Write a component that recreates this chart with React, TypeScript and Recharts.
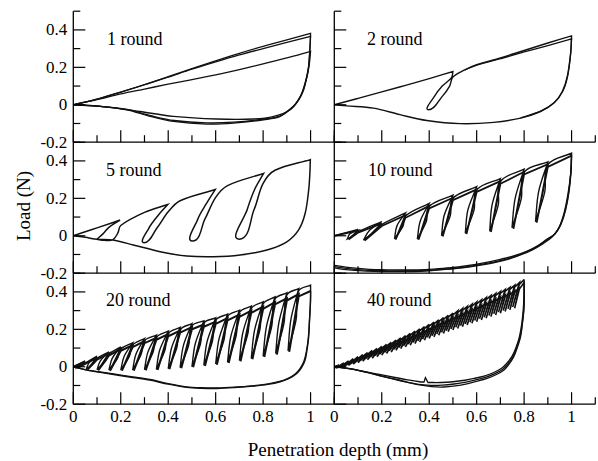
import React from 'react';
import { LineChart, Line, XAxis, YAxis } from 'recharts';

type Pt = [number, number];

const W = 598;
const H = 461;
const FONT = '"Liberation Serif", "Times New Roman", serif';

// axes
const xTicks = [0, 0.1, 0.2, 0.3, 0.4, 0.5, 0.6, 0.7, 0.8, 0.9, 1, 1.1];
const yTicks = [-0.2, -0.1, 0, 0.1, 0.2, 0.3, 0.4, 0.5];
const xLabelTicks = [0, 0.2, 0.4, 0.6, 0.8, 1];
const yLabelTicks = [-0.2, 0, 0.2, 0.4];
const panelTitles = ['1 round', '2 round', '5 round', '10 round', '20 round', '40 round'];

// ---- 1 round ----
const r1LoadD = [0, 0.1, 0.2, 0.3, 0.4, 0.5, 0.6, 0.7, 0.8, 0.9, 1];
const r1LoadA = [0, 0.03, 0.068, 0.108, 0.15, 0.193, 0.235, 0.275, 0.312, 0.347, 0.382];
const r1LoadB = [0, 0.03, 0.068, 0.107, 0.148, 0.19, 0.229, 0.266, 0.3, 0.333, 0.365];
const r1LoadC = [0, 0.027, 0.058, 0.084, 0.11, 0.134, 0.16, 0.188, 0.218, 0.25, 0.285];
const r1UnloadAD = [1, 0.997, 0.992, 0.983, 0.971, 0.952, 0.928, 0.872, 0.802, 0.675, 0.563, 0.422, 0.324, 0.225, 0.113, 0];
const r1UnloadAL = [0.382, 0.3, 0.204, 0.14, 0.08, 0.03, -0.009, -0.062, -0.08, -0.098, -0.103, -0.089, -0.062, -0.027, -0.009, 0];
const r1UnloadBD = [1, 0.997, 0.991, 0.981, 0.968, 0.948, 0.924, 0.87, 0.8, 0.675, 0.563, 0.425, 0.326, 0.226, 0.113, 0];
const r1UnloadBL = [0.365, 0.29, 0.2, 0.135, 0.075, 0.025, -0.012, -0.06, -0.077, -0.093, -0.097, -0.084, -0.058, -0.025, -0.008, 0];
const r1UnloadCD = [1, 0.995, 0.985, 0.972, 0.957, 0.914, 0.845, 0.76, 0.605, 0.422, 0.281, 0.183, 0.09, 0];
const r1UnloadCL = [0.285, 0.22, 0.151, 0.095, 0.044, -0.027, -0.062, -0.076, -0.076, -0.062, -0.036, -0.018, -0.006, 0];

// ---- 2 round ----
const r2Load: Pt[] = [[0, 0], [0.1, 0.034], [0.2, 0.069], [0.3, 0.104], [0.4, 0.14], [0.5, 0.178]];
const r2Leaf: Pt[] = [
  [0.5, 0.178], [0.494, 0.145], [0.455, 0.1], [0.422, 0.045], [0.397, -0.027], [0.455, 0.045],
  [0.486, 0.1], [0.5, 0.148], [0.55, 0.186], [0.6, 0.214], [0.7, 0.25], [0.8, 0.29], [0.9, 0.33], [1, 0.368],
];
const r2Unload: Pt[] = [
  [1, 0.368], [0.996, 0.276], [0.982, 0.151], [0.961, 0.071], [0.925, 0.009], [0.869, -0.036], [0.785, -0.071],
  [0.672, -0.094], [0.531, -0.101], [0.39, -0.084], [0.277, -0.053], [0.165, -0.018], [0.052, -0.006], [0, 0],
];
const r2Load2: Pt[] = [[0.55, 0.186], [0.6, 0.212], [0.7, 0.246], [0.8, 0.282], [0.9, 0.316], [1, 0.352]];
const r2Unload2: Pt[] = [[1, 0.352], [0.996, 0.27], [0.983, 0.15], [0.963, 0.072], [0.928, 0.012], [0.87, -0.034], [0.785, -0.07]];

// ---- 5 round ----
const r5Load: Pt[] = [[0, 0], [0.1, 0.042], [0.197, 0.084]];
const r5Leaf1Down: Pt[] = [[0.197, 0.084], [0.15, 0.045], [0.125, 0.01], [0.099, -0.019]];
const r5Leaf1Up: Pt[] = [[0.099, -0.019], [0.13, -0.024], [0.166, -0.022], [0.188, 0.015], [0.2, 0.055], [0.3, 0.125], [0.398, 0.167]];
const r5Leaf2: Pt[] = [[0.398, 0.167], [0.358, 0.11], [0.318, 0.04], [0.298, -0.037], [0.352, 0.04], [0.4, 0.128], [0.45, 0.187], [0.598, 0.247]];
const r5Leaf3: Pt[] = [[0.598, 0.247], [0.56, 0.17], [0.525, 0.09], [0.502, -0.028], [0.555, 0.09], [0.6, 0.205], [0.65, 0.268], [0.802, 0.333]];
const r5Leaf4: Pt[] = [[0.802, 0.333], [0.765, 0.25], [0.733, 0.14], [0.699, -0.018], [0.762, 0.14], [0.8, 0.28], [0.85, 0.35], [0.999, 0.407]];
const r5Unload: Pt[] = [
  [0.999, 0.407], [0.997, 0.333], [0.992, 0.244], [0.977, 0.119], [0.949, 0.03], [0.9, -0.032], [0.816, -0.076],
  [0.703, -0.103], [0.591, -0.112], [0.478, -0.108], [0.366, -0.085], [0.253, -0.049], [0.166, -0.023], [0.1, -0.019],
  [0.05, -0.008], [0, 0],
];

// ---- 10 round ----
const r10PeakD = [0.1, 0.2, 0.3, 0.4, 0.5, 0.6, 0.7, 0.8, 0.9, 1];
const r10PeakA = [0.034, 0.076, 0.122, 0.173, 0.217, 0.262, 0.306, 0.356, 0.395, 0.441];
const r10PeakB = [0.028, 0.066, 0.11, 0.16, 0.203, 0.248, 0.292, 0.342, 0.382, 0.428];
const r10ValD = [0.055, 0.123, 0.254, 0.35, 0.452, 0.552, 0.655, 0.749, 0.848];
const r10ValDB = [0.06, 0.128, 0.258, 0.355, 0.457, 0.557, 0.66, 0.755, 0.853];
const r10ValA = [-0.016, -0.023, -0.016, -0.018, 0.0, 0.013, 0.024, 0.042, 0.075];
const r10ValB = [-0.02, -0.026, -0.02, -0.021, -0.004, 0.009, 0.02, 0.037, 0.07];
const r10JoinA = [0.022, 0.06, 0.106, 0.157, 0.2, 0.245, 0.29, 0.34, 0.38];
const r10JoinB = [0.017, 0.052, 0.096, 0.146, 0.19, 0.234, 0.278, 0.328, 0.368];
const r10MidL = [0.009, 0.027, 0.053, 0.078, 0.108, 0.138, 0.165, 0.199, 0.235];
const r10LeftD = [0.065, 0.147, 0.264, 0.362, 0.463, 0.563, 0.665, 0.762, 0.861];
const r10RightD = [0.091, 0.173, 0.29, 0.388, 0.489, 0.589, 0.691, 0.788, 0.887];
const r10UnloadA: Pt[] = [
  [1, 0.441], [0.998, 0.35], [0.99, 0.244], [0.975, 0.14], [0.955, 0.06], [0.93, 0.01], [0.897, -0.018], [0.855, -0.055],
  [0.813, -0.082], [0.756, -0.108], [0.7, -0.126], [0.63, -0.145], [0.559, -0.16], [0.49, -0.171], [0.418, -0.178],
  [0.35, -0.182], [0.277, -0.183], [0.2, -0.181], [0.137, -0.178], [0.066, -0.17], [0, -0.158],
];
const r10UnloadB: Pt[] = [
  [1, 0.428], [0.997, 0.34], [0.988, 0.235], [0.972, 0.13], [0.95, 0.05], [0.922, 0.0], [0.888, -0.03], [0.845, -0.065],
  [0.8, -0.092], [0.745, -0.118], [0.69, -0.136], [0.62, -0.153], [0.55, -0.167], [0.48, -0.177], [0.41, -0.184],
  [0.34, -0.187], [0.27, -0.188], [0.2, -0.187], [0.13, -0.184], [0.06, -0.176], [0, -0.165],
];
const r10UnloadC: Pt[] = [
  [1, 0.435], [0.996, 0.33], [0.985, 0.225], [0.968, 0.12], [0.945, 0.04], [0.915, -0.01], [0.88, -0.042], [0.835, -0.075],
  [0.79, -0.1], [0.735, -0.125], [0.68, -0.142], [0.61, -0.158], [0.54, -0.171], [0.47, -0.18], [0.4, -0.187],
  [0.33, -0.191], [0.26, -0.192], [0.19, -0.191], [0.12, -0.188], [0.05, -0.181], [0, -0.172],
];

// ---- 20 round ----
const r20PeakD = [0.05, 0.1, 0.15, 0.2, 0.25, 0.3, 0.35, 0.4, 0.45, 0.5, 0.55, 0.6, 0.65, 0.7, 0.75, 0.8, 0.85, 0.9, 0.95, 1];
const r20PeakA = [0.032, 0.057, 0.08, 0.107, 0.128, 0.151, 0.169, 0.19, 0.21, 0.231, 0.245, 0.261, 0.281, 0.302, 0.324, 0.347, 0.373, 0.395, 0.418, 0.436];
const r20PeakB = [0.026, 0.049, 0.071, 0.096, 0.116, 0.137, 0.155, 0.174, 0.193, 0.212, 0.226, 0.241, 0.26, 0.279, 0.3, 0.321, 0.345, 0.366, 0.388, 0.405];
const r20ValD = [0.015, 0.055, 0.1, 0.15, 0.2, 0.25, 0.3, 0.35, 0.4, 0.45, 0.5, 0.55, 0.6, 0.65, 0.7, 0.75, 0.8, 0.853, 0.905];
const r20ValDB = [0.018, 0.06, 0.105, 0.155, 0.205, 0.255, 0.305, 0.355, 0.405, 0.455, 0.505, 0.555, 0.605, 0.655, 0.705, 0.755, 0.805, 0.858, 0.91];
const r20ValA = [-0.004, -0.012, -0.016, -0.018, -0.018, -0.018, -0.016, -0.014, -0.01, -0.005, 0.0, 0.008, 0.015, 0.024, 0.033, 0.044, 0.056, 0.07, 0.085];
const r20ValB = [-0.006, -0.015, -0.019, -0.021, -0.021, -0.02, -0.019, -0.017, -0.013, -0.008, -0.003, 0.004, 0.011, 0.02, 0.029, 0.04, 0.052, 0.065, 0.08];
const r20JoinA = [0.02, 0.045, 0.068, 0.095, 0.116, 0.139, 0.157, 0.178, 0.198, 0.219, 0.233, 0.249, 0.269, 0.29, 0.312, 0.335, 0.361, 0.383, 0.406];
const r20JoinB = [0.016, 0.038, 0.06, 0.085, 0.105, 0.126, 0.144, 0.163, 0.182, 0.2, 0.214, 0.229, 0.248, 0.267, 0.288, 0.309, 0.333, 0.354, 0.376];
const r20MidL = [0.014, 0.022, 0.032, 0.045, 0.055, 0.067, 0.077, 0.088, 0.1, 0.113, 0.123, 0.135, 0.148, 0.163, 0.179, 0.196, 0.215, 0.233, 0.252];
const r20LeftD = [0.024, 0.067, 0.114, 0.164, 0.214, 0.264, 0.314, 0.364, 0.414, 0.464, 0.514, 0.564, 0.614, 0.664, 0.714, 0.764, 0.814, 0.866, 0.917];
const r20RightD = [0.041, 0.088, 0.136, 0.186, 0.236, 0.286, 0.336, 0.386, 0.436, 0.486, 0.536, 0.586, 0.636, 0.686, 0.736, 0.786, 0.836, 0.888, 0.939];
const r20UnloadA: Pt[] = [
  [1, 0.436], [1, 0.36], [0.996, 0.26], [0.992, 0.16], [0.985, 0.09], [0.977, 0.036], [0.962, -0.005], [0.942, -0.036],
  [0.91, -0.062], [0.872, -0.08], [0.82, -0.094], [0.759, -0.103], [0.68, -0.111], [0.605, -0.116], [0.54, -0.115],
  [0.478, -0.11], [0.4, -0.093], [0.323, -0.071], [0.25, -0.057], [0.183, -0.044], [0.12, -0.031], [0.056, -0.018], [0, 0],
];
const r20UnloadB: Pt[] = [
  [1, 0.405], [0.999, 0.33], [0.995, 0.24], [0.99, 0.15], [0.982, 0.08], [0.972, 0.03], [0.956, -0.008], [0.935, -0.038],
  [0.903, -0.063], [0.865, -0.08], [0.815, -0.093], [0.755, -0.102], [0.68, -0.109], [0.605, -0.113], [0.54, -0.112],
  [0.478, -0.107], [0.4, -0.09], [0.323, -0.068], [0.25, -0.054], [0.183, -0.041], [0.12, -0.029], [0.056, -0.016], [0, 0],
];

// ---- 40 round ----
const r40PeakD = [0.02, 0.04, 0.06, 0.08, 0.1, 0.12, 0.14, 0.16, 0.18, 0.2, 0.22, 0.24, 0.26, 0.28, 0.3, 0.32, 0.34, 0.36, 0.38, 0.4,
  0.42, 0.44, 0.46, 0.48, 0.5, 0.52, 0.54, 0.56, 0.58, 0.6, 0.62, 0.64, 0.66, 0.68, 0.7, 0.72, 0.74, 0.76, 0.78, 0.8];
const r40PeakA = [0.01, 0.021, 0.032, 0.043, 0.054, 0.065, 0.076, 0.087, 0.098, 0.109, 0.12, 0.131, 0.143, 0.154, 0.166, 0.178, 0.19, 0.202, 0.214, 0.227,
  0.239, 0.251, 0.263, 0.275, 0.287, 0.299, 0.311, 0.322, 0.334, 0.346, 0.357, 0.369, 0.38, 0.391, 0.402, 0.413, 0.424, 0.435, 0.45, 0.466];
const r40PeakB = [0.007, 0.017, 0.027, 0.038, 0.048, 0.058, 0.068, 0.079, 0.089, 0.099, 0.109, 0.12, 0.131, 0.141, 0.152, 0.163, 0.174, 0.185, 0.196, 0.208,
  0.219, 0.23, 0.241, 0.252, 0.263, 0.274, 0.285, 0.296, 0.307, 0.318, 0.329, 0.34, 0.351, 0.362, 0.373, 0.384, 0.395, 0.406, 0.425, 0.45];
const r40ValD = [0, 0.015, 0.032, 0.052, 0.072, 0.092, 0.112, 0.132, 0.152, 0.172, 0.192, 0.212, 0.232, 0.252, 0.272, 0.292, 0.312, 0.332, 0.352, 0.372,
  0.392, 0.412, 0.432, 0.452, 0.472, 0.492, 0.512, 0.532, 0.552, 0.572, 0.592, 0.612, 0.632, 0.652, 0.672, 0.692, 0.712, 0.732, 0.752];
const r40ValDB = [0.006, 0.022, 0.04, 0.06, 0.08, 0.1, 0.12, 0.14, 0.16, 0.18, 0.2, 0.22, 0.24, 0.26, 0.28, 0.3, 0.32, 0.34, 0.36, 0.38,
  0.4, 0.42, 0.44, 0.46, 0.48, 0.5, 0.52, 0.54, 0.56, 0.58, 0.6, 0.62, 0.64, 0.66, 0.68, 0.7, 0.72, 0.74, 0.76];
const r40ValA = [-0.003, 0.0, 0.006, 0.013, 0.02, 0.028, 0.036, 0.044, 0.052, 0.06, 0.068, 0.077, 0.085, 0.094, 0.103, 0.112, 0.121, 0.13, 0.139, 0.148,
  0.157, 0.166, 0.175, 0.184, 0.193, 0.202, 0.211, 0.22, 0.229, 0.238, 0.247, 0.256, 0.265, 0.274, 0.283, 0.292, 0.301, 0.31, 0.32];
const r40ValB = [-0.006, -0.004, 0.001, 0.007, 0.014, 0.022, 0.03, 0.038, 0.046, 0.054, 0.062, 0.071, 0.079, 0.088, 0.097, 0.106, 0.115, 0.124, 0.133, 0.142,
  0.151, 0.16, 0.169, 0.178, 0.187, 0.196, 0.205, 0.214, 0.223, 0.232, 0.241, 0.25, 0.259, 0.268, 0.277, 0.286, 0.295, 0.304, 0.313];
const r40JoinA = [0.0, 0.011, 0.022, 0.033, 0.044, 0.055, 0.066, 0.077, 0.088, 0.099, 0.11, 0.121, 0.133, 0.144, 0.156, 0.168, 0.18, 0.192, 0.204, 0.217,
  0.229, 0.241, 0.253, 0.265, 0.277, 0.289, 0.301, 0.312, 0.324, 0.336, 0.347, 0.359, 0.37, 0.381, 0.392, 0.403, 0.414, 0.425, 0.44];
const r40JoinB = [-0.003, 0.007, 0.017, 0.028, 0.038, 0.048, 0.058, 0.069, 0.079, 0.089, 0.099, 0.11, 0.121, 0.131, 0.142, 0.153, 0.164, 0.175, 0.186, 0.198,
  0.209, 0.22, 0.231, 0.242, 0.253, 0.264, 0.275, 0.286, 0.297, 0.308, 0.319, 0.33, 0.341, 0.352, 0.363, 0.374, 0.385, 0.396, 0.415];
const r40UnloadA: Pt[] = [
  [0.8, 0.466], [0.801, 0.373], [0.799, 0.302], [0.793, 0.231], [0.785, 0.16], [0.77, 0.098], [0.756, 0.053], [0.735, 0.012],
  [0.714, -0.018], [0.679, -0.044], [0.644, -0.062], [0.6, -0.078], [0.559, -0.091], [0.51, -0.102], [0.461, -0.108],
  [0.41, -0.106], [0.36, -0.097], [0.31, -0.083], [0.277, -0.072], [0.207, -0.052], [0.137, -0.03], [0.066, -0.01], [0, 0],
];
const r40UnloadB1: Pt[] = [
  [0.8, 0.45], [0.799, 0.37], [0.796, 0.3], [0.79, 0.23], [0.78, 0.16], [0.765, 0.1], [0.75, 0.058], [0.728, 0.02],
  [0.705, -0.008], [0.67, -0.032], [0.635, -0.048], [0.59, -0.062], [0.55, -0.072], [0.5, -0.08], [0.45, -0.084], [0.395, -0.084],
];
const r40SpikeUp: Pt[] = [[0.395, -0.084], [0.384, -0.058]];
const r40SpikeDown: Pt[] = [[0.384, -0.058], [0.378, -0.082]];
const r40UnloadB2: Pt[] = [[0.378, -0.082], [0.36, -0.08], [0.31, -0.07], [0.25, -0.056], [0.19, -0.041], [0.13, -0.026], [0.066, -0.011], [0, 0]];
const r40UnloadC: Pt[] = [
  [0.8, 0.458], [0.8, 0.37], [0.798, 0.3], [0.792, 0.23], [0.783, 0.16], [0.768, 0.099], [0.753, 0.055], [0.732, 0.015],
  [0.71, -0.013], [0.675, -0.038], [0.64, -0.055], [0.595, -0.07], [0.555, -0.082], [0.505, -0.092], [0.455, -0.098],
  [0.405, -0.099], [0.355, -0.094], [0.305, -0.082], [0.27, -0.072], [0.2, -0.05], [0.135, -0.028], [0.066, -0.01], [0, 0],
];

// ---------- helpers ----------
const zip = (ds: number[], ls: number[]): Pt[] => ds.map((d, i) => [d, ls[i]]);

// one loading-leaf cycle: origin -> peak 1, then each leaf: peak -> (side) -> valley -> (side) -> rejoin -> next peak.
// With side points the valley is a corner, so each leaf comes out as a pointed lens.
function leafStrokes(
  peakD: number[], peakL: number[], valD: number[], valL: number[], joinL: number[],
  sides?: { left: number[]; right: number[]; mid: number[] },
): Pt[][] {
  const strokes: Pt[][] = [[[0, 0], [peakD[0], peakL[0]]]];
  valD.forEach((vd, i) => {
    const v: Pt = [vd, valL[i]];
    if (sides) {
      strokes.push([[peakD[i], peakL[i]], [sides.left[i], sides.mid[i]], v]);
      strokes.push([v, [sides.right[i], sides.mid[i]], [peakD[i], joinL[i]], [peakD[i + 1], peakL[i + 1]]]);
    } else {
      strokes.push([[peakD[i], peakL[i]], v, [peakD[i], joinL[i]], [peakD[i + 1], peakL[i + 1]]]);
    }
  });
  return strokes;
}

const toData = (strokes: Pt[][]) => strokes.flat().map(([d, L]) => ({ d, L }));

// smooth curve through the points; a repeated point starts a new stroke (sharp corner)
function drawStroke(ctx: any, s: Pt[]) {
  const n = s.length;
  if (n < 2) return;
  const tan = s.map((_, i) => {
    const a = s[Math.max(0, i - 1)];
    const b = s[Math.min(n - 1, i + 1)];
    const dx = b[0] - a[0];
    const dy = b[1] - a[1];
    const m = Math.hypot(dx, dy) || 1;
    return [dx / m, dy / m];
  });
  for (let i = 0; i < n - 1; i++) {
    const p = s[i];
    const q = s[i + 1];
    const k = Math.hypot(q[0] - p[0], q[1] - p[1]) / 3;
    ctx.bezierCurveTo(p[0] + tan[i][0] * k, p[1] + tan[i][1] * k, q[0] - tan[i + 1][0] * k, q[1] - tan[i + 1][1] * k, q[0], q[1]);
  }
}

const cornerSpline = (ctx: any) => {
  let pts: Pt[] = [];
  return {
    areaStart() {},
    areaEnd() {},
    lineStart() {
      pts = [];
    },
    point(x: number, y: number) {
      pts.push([+x, +y]);
    },
    lineEnd() {
      if (!pts.length) return;
      ctx.moveTo(pts[0][0], pts[0][1]);
      let cur: Pt[] = [pts[0]];
      for (let i = 1; i < pts.length; i++) {
        const p = pts[i];
        const last = cur[cur.length - 1];
        if (Math.abs(p[0] - last[0]) < 0.01 && Math.abs(p[1] - last[1]) < 0.01) {
          drawStroke(ctx, cur);
          cur = [p];
        } else cur.push(p);
      }
      drawStroke(ctx, cur);
    },
  };
};

type Series = { data: { d: number; L: number }[]; curve: any; width?: number };
const smooth = (strokes: Pt[][], width?: number): Series => ({ data: toData(strokes), curve: cornerSpline, width });
const straight = (strokes: Pt[][], width?: number): Series => ({ data: toData(strokes), curve: 'linear', width });

const panels: Series[][] = [
  [
    smooth([zip(r1LoadD, r1LoadA), zip(r1UnloadAD, r1UnloadAL)]),
    smooth([zip(r1LoadD, r1LoadB), zip(r1UnloadBD, r1UnloadBL)]),
    smooth([zip(r1LoadD, r1LoadC), zip(r1UnloadCD, r1UnloadCL)]),
  ],
  [smooth([r2Load, r2Leaf, r2Unload], 1.4), smooth([r2Load2, r2Unload2])],
  [smooth([r5Load, r5Leaf1Down, r5Leaf1Up, r5Leaf2, r5Leaf3, r5Leaf4, r5Unload], 1.5)],
  [
    smooth([...leafStrokes(r10PeakD, r10PeakA, r10ValD, r10ValA, r10JoinA, { left: r10LeftD, right: r10RightD, mid: r10MidL }), r10UnloadA], 1.4),
    straight(leafStrokes(r10PeakD, r10PeakB, r10ValDB, r10ValB, r10JoinB), 1.8),
    smooth([r10UnloadB]),
    smooth([r10UnloadC]),
  ],
  [
    smooth([...leafStrokes(r20PeakD, r20PeakA, r20ValD, r20ValA, r20JoinA, { left: r20LeftD, right: r20RightD, mid: r20MidL }), r20UnloadA], 1.4),
    straight(leafStrokes(r20PeakD, r20PeakB, r20ValDB, r20ValB, r20JoinB), 2),
    smooth([r20UnloadB]),
  ],
  [
    straight(leafStrokes(r40PeakD, r40PeakA, r40ValD, r40ValA, r40JoinA), 1.6),
    straight(leafStrokes(r40PeakD, r40PeakB, r40ValDB, r40ValB, r40JoinB), 1.6),
    smooth([r40UnloadA]),
    smooth([r40UnloadB1, r40SpikeUp, r40SpikeDown, r40UnloadB2]),
    smooth([r40UnloadC]),
  ],
];

// panel boxes in page pixels
const COLS = [{ left: 73.3, width: 261 }, { left: 334.3, width: 261 }];
const ROWS = [{ top: 11.2, height: 131 }, { top: 142.2, height: 131 }, { top: 273.2, height: 131 }];
const TITLE_POS = [
  { x: 107, y: 45 }, { x: 367, y: 45 },
  { x: 106, y: 176 }, { x: 368, y: 176 },
  { x: 106, y: 306 }, { x: 367, y: 306 },
];

const isMajor = (list: number[], v: number) => list.some((t) => Math.abs(t - v) < 1e-6);

const makeXTick = (labels: boolean) => (props: any) => {
  const { x, y, payload } = props;
  const v = payload.value;
  const major = isMajor(xLabelTicks, v);
  return (
    <g>
      <line x1={x} x2={x} y1={y} y2={y - (major ? 12 : 7)} stroke="#000" strokeWidth={1.2} />
      {labels && major && (
        <text x={x} y={y + 18} textAnchor="middle" fontSize={17} fontFamily={FONT} fill="#000">
          {String(v)}
        </text>
      )}
    </g>
  );
};

const makeYTick = (labels: boolean) => (props: any) => {
  const { x, y, payload } = props;
  const v = payload.value;
  const major = isMajor(yLabelTicks, v);
  return (
    <g>
      <line x1={x} x2={x + (major ? 12 : 7)} y1={y} y2={y} stroke="#000" strokeWidth={1.2} />
      {labels && major && (
        <text x={x - 6} y={y + 5.5} textAnchor="end" fontSize={17} fontFamily={FONT} fill="#000">
          {String(v)}
        </text>
      )}
    </g>
  );
};

function Panel({ index }: { index: number }) {
  const col = COLS[index % 2];
  const row = ROWS[Math.floor(index / 2)];
  // axes take 1px each out of the margins
  const margin = {
    left: col.left - 1,
    top: row.top,
    right: W - col.left - col.width,
    bottom: H - row.top - row.height - 1,
  };
  const axisLine = { stroke: '#000', strokeWidth: 1.3 };
  return (
    <div style={{ position: 'absolute', left: 0, top: 0 }}>
      <LineChart width={W} height={H} margin={margin}>
        <XAxis
          dataKey="d"
          type="number"
          domain={[0, 1.1]}
          ticks={xTicks}
          interval={0}
          height={1}
          tickSize={0}
          tickMargin={0}
          tickLine={false}
          axisLine={axisLine}
          tick={makeXTick(index >= 4)}
        />
        <YAxis
          type="number"
          domain={[-0.2, 0.5]}
          ticks={yTicks}
          interval={0}
          width={1}
          tickSize={0}
          tickMargin={0}
          tickLine={false}
          axisLine={axisLine}
          tick={makeYTick(index % 2 === 0)}
        />
        {panels[index].map((s, i) => (
          <Line
            key={i}
            data={s.data}
            dataKey="L"
            type={s.curve}
            stroke="#111"
            strokeWidth={s.width ?? 1.3}
            dot={false}
            activeDot={false}
            legendType="none"
            isAnimationActive={false}
          />
        ))}
      </LineChart>
    </div>
  );
}

export default function App() {
  return (
    <div style={{ position: 'absolute', left: 0, top: 0, width: W, height: H, background: '#fff', overflow: 'hidden' }}>
      {panelTitles.map((_, i) => (
        <Panel key={i} index={i} />
      ))}
      <svg width={W} height={H} style={{ position: 'absolute', left: 0, top: 0, pointerEvents: 'none' }}>
        {panelTitles.map((t, i) => (
          <text key={t} x={TITLE_POS[i].x} y={TITLE_POS[i].y} fontSize={18} fontFamily={FONT} fill="#000">
            {t}
          </text>
        ))}
        <text x={338} y={456} textAnchor="middle" fontSize={19} fontFamily={FONT} fill="#000">
          Penetration depth (mm)
        </text>
        <text x={30} y={206} textAnchor="middle" fontSize={19} fontFamily={FONT} fill="#000" transform="rotate(-90 30 206)">
          Load (N)
        </text>
      </svg>
    </div>
  );
}
